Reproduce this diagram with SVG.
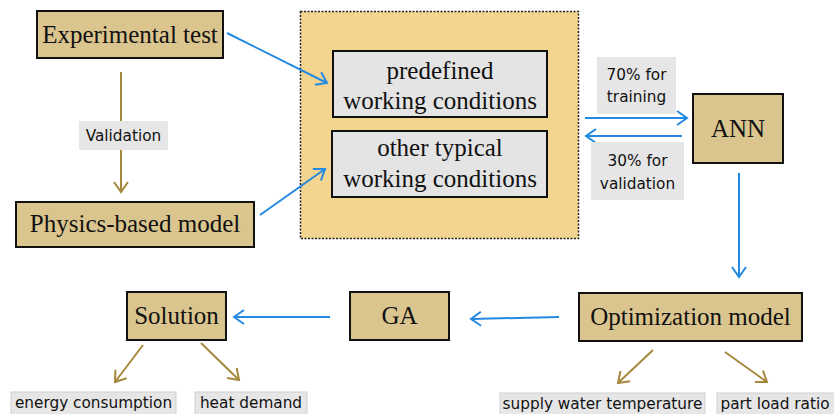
<svg xmlns="http://www.w3.org/2000/svg" width="834" height="414" viewBox="0 0 834 414">
  <style>
    .node { fill: #DBC58F; stroke: #111; stroke-width: 2; }
    .inner { fill: #E4E4E4; stroke: #111; stroke-width: 2; }
    .tag { fill: #E6E6E6; }
    .tagb { fill: #E6E6E6; stroke: #CFCFCF; stroke-width: 1; }
    .serif { font-family: "Liberation Serif", "Times New Roman", serif; font-size: 25px; fill: #111; text-anchor: middle; }
    .sans { font-family: "DejaVu Sans", Verdana, sans-serif; font-size: 15.3px; fill: #111; text-anchor: middle; }
    .blue { stroke: #2389E3; stroke-width: 2; fill: none; marker-end: url(#ab); }
    .brown { stroke: #A5883C; stroke-width: 2; fill: none; marker-end: url(#ao); }
  </style>
  <defs>
    <marker id="ab" markerUnits="userSpaceOnUse" viewBox="-12 -8 14 16" refX="0" refY="0" markerWidth="14" markerHeight="16" orient="auto">
      <path d="M-10,-7 L0,0 L-10,7" fill="none" stroke="#2389E3" stroke-width="2"/>
    </marker>
    <marker id="ao" markerUnits="userSpaceOnUse" viewBox="-12 -8 14 16" refX="0" refY="0" markerWidth="14" markerHeight="16" orient="auto">
      <path d="M-10,-7 L0,0 L-10,7" fill="none" stroke="#A5883C" stroke-width="2"/>
    </marker>
  </defs>
  <rect width="834" height="414" fill="#fff"/>

  <!-- working-condition container -->
  <g id="conditions">
    <rect x="300.5" y="11.5" width="278" height="227" fill="#F3D58F" stroke="#222" stroke-width="1.5" stroke-dasharray="2 1.5"/>
    <g id="predefined">
      <rect class="inner" x="333" y="51" width="214" height="66"/>
      <text class="serif" x="440" y="79">predefined</text>
      <text class="serif" x="440" y="109">working conditions</text>
    </g>
    <g id="typical">
      <rect class="inner" x="332" y="131" width="215" height="66"/>
      <text class="serif" x="440" y="156">other typical</text>
      <text class="serif" x="440" y="187">working conditions</text>
    </g>
  </g>

  <!-- connectors -->
  <g id="connectors">
    <line class="brown" x1="121" y1="72" x2="121" y2="192"/>
    <path class="blue" d="M227,33 L327,83"/>
    <path class="blue" d="M260,215 L325,169"/>
    <line class="blue" x1="585" y1="118" x2="687" y2="118"/>
    <line class="blue" x1="682" y1="136" x2="586" y2="136"/>
    <line class="blue" x1="739" y1="173" x2="739" y2="277"/>
    <path class="blue" d="M559,317 L471,319"/>
    <path class="blue" d="M330,317 L234,317"/>
    <path class="brown" d="M143,345 L115,382"/>
    <path class="brown" d="M201,343 L239,380"/>
    <path class="brown" d="M653,350 L618,383"/>
    <path class="brown" d="M725,352 L767,382"/>
  </g>

  <!-- connector labels -->
  <g id="label-validation">
    <rect class="tag" x="79" y="121" width="89" height="29"/>
    <text class="sans" x="123.5" y="141">Validation</text>
  </g>
  <g id="label-training">
    <rect class="tag" x="597" y="57" width="79" height="57"/>
    <text class="sans" x="636.5" y="80">70% for</text>
    <text class="sans" x="636.5" y="102">training</text>
  </g>
  <g id="label-validation-split">
    <rect class="tag" x="591" y="142" width="93" height="58"/>
    <text class="sans" x="637.5" y="166">30% for</text>
    <text class="sans" x="637.5" y="189">validation</text>
  </g>

  <!-- nodes -->
  <g id="experimental">
    <rect class="node" x="37" y="11" width="186" height="47"/>
    <text class="serif" x="130" y="43">Experimental test</text>
  </g>
  <g id="physics">
    <rect class="node" x="16" y="202" width="238" height="45"/>
    <text class="serif" x="135" y="232">Physics-based model</text>
  </g>
  <g id="ann">
    <rect class="node" x="693" y="94" width="90" height="69"/>
    <text class="serif" x="738" y="137">ANN</text>
  </g>
  <g id="optimization">
    <rect class="node" x="579" y="293" width="223" height="48"/>
    <text class="serif" x="690.5" y="325">Optimization model</text>
  </g>
  <g id="ga">
    <rect class="node" x="350" y="292" width="99" height="48"/>
    <text class="serif" x="399.5" y="324">GA</text>
  </g>
  <g id="solution">
    <rect class="node" x="127" y="292" width="99" height="48"/>
    <text class="serif" x="176.5" y="324">Solution</text>
  </g>

  <!-- outputs -->
  <g id="out-energy">
    <rect class="tagb" x="11" y="392" width="165" height="26"/>
    <text class="sans" x="93.5" y="408">energy consumption</text>
  </g>
  <g id="out-heat">
    <rect class="tagb" x="195" y="392" width="112" height="26"/>
    <text class="sans" x="251" y="408">heat demand</text>
  </g>
  <g id="out-supply">
    <rect class="tagb" x="500" y="393" width="205" height="26"/>
    <text class="sans" x="602.5" y="409">supply water temperature</text>
  </g>
  <g id="out-plr">
    <rect class="tagb" x="717" y="393" width="122" height="26"/>
    <text class="sans" x="775" y="409">part load ratio</text>
  </g>
</svg>
